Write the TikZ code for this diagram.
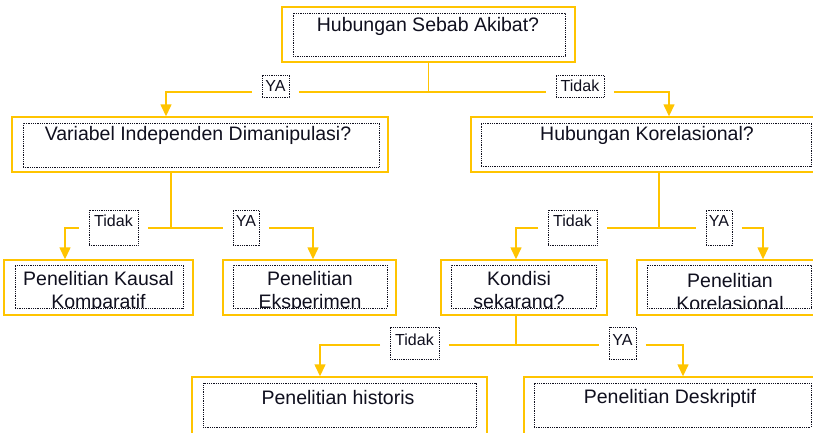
\documentclass[tikz,border=0pt]{standalone}
\usepackage{fontspec}
\setmainfont{Liberation Sans}
\usetikzlibrary{arrows.meta}
\definecolor{gold}{RGB}{255,196,0}
\definecolor{ink}{RGB}{15,15,30}
\tikzset{
  ybox/.style={draw=gold, line width=1.4pt, inner sep=0pt, fill=white},
  dbox/.style={draw=ink, line width=0.9pt, dash pattern=on 0.9pt off 0.9pt, inner sep=0pt},
  txt/.style={font=\fontsize{19.5}{23}\selectfont, text=ink, align=center, inner sep=0pt},
  lbl/.style={dbox, font=\fontsize{16}{18}\selectfont, text=ink, fill=white},
  conn/.style={draw=gold, line width=1.4pt},
  arr/.style={conn, -{Triangle[width=11pt,length=12pt]}}
}
\begin{document}
\begin{tikzpicture}[x=1pt,y=-1pt]
\useasboundingbox (0,0) rectangle (813,432);
\clip (0,0) rectangle (813,432);
% ---------- boxes ----------
\node[ybox,minimum width=293,minimum height=55] (q1) at (428.5,34.5) {};
\node[dbox,minimum width=272,minimum height=43] (q1i) at (429,34.5) {};
\node[txt] (q1t) at (428,26) {Hubungan Sebab Akibat?};

\node[ybox,minimum width=376,minimum height=55] (q2) at (200,144.5) {};
\node[dbox,minimum width=356,minimum height=44] (q2i) at (201,145) {};
\node[txt] (q2t) at (198,135) {Variabel Independen Dimanipulasi?};

\node[ybox,minimum width=359,minimum height=55] (q3) at (650.5,144.5) {};
\node[dbox,minimum width=330,minimum height=43] (q3i) at (646,144.5) {};
\node[txt] (q3t) at (647,135) {Hubungan Korelasional?};

\node[ybox,minimum width=189,minimum height=55] (r1) at (98.5,287.5) {};
\begin{scope}\clip (15,265) rectangle (183,308.5);
\node[txt] (r1t) at (98.5,292) {Penelitian Kausal\\Komparatif};
\end{scope}
\node[dbox,minimum width=168,minimum height=43] (r1i) at (99,286.5) {};

\node[ybox,minimum width=173,minimum height=55] (r2) at (309.5,287.5) {};
\begin{scope}\clip (233,265) rectangle (387,308.5);
\node[txt] (r2t) at (310,292) {Penelitian\\Eksperimen};
\end{scope}
\node[dbox,minimum width=154,minimum height=43] (r2i) at (310,286.5) {};

\node[ybox,minimum width=166,minimum height=55] (q4) at (524,287.5) {};
\begin{scope}\clip (451,265) rectangle (596,308.5);
\node[txt] (q4t) at (519,292) {Kondisi\\sekarang?};
\end{scope}
\node[dbox,minimum width=145,minimum height=43] (q4i) at (523.5,286.5) {};

\node[ybox,minimum width=193,minimum height=55] (r3) at (733.5,287.5) {};
\begin{scope}\clip (647,265) rectangle (811,308.5);
\node[txt] (r3t) at (730,292) {Penelitian\\Korelasional};
\end{scope}
\node[dbox,minimum width=164,minimum height=43] (r3i) at (729,286.5) {};

\node[ybox,minimum width=295,minimum height=63] (r4) at (339.5,408.5) {};
\node[dbox,minimum width=273,minimum height=44] (r4i) at (339.5,405) {};
\node[txt] (r4t) at (338,398) {Penelitian historis};

\node[ybox,minimum width=306,minimum height=63] (r5) at (677,408.5) {};
\node[dbox,minimum width=277,minimum height=44] (r5i) at (672.5,405) {};
\node[txt] (r5t) at (670,398) {Penelitian Deskriptif};

% ---------- labels ----------
\node[lbl,minimum width=27,minimum height=22] (yaA) at (275.5,86) {YA};
\node[lbl,minimum width=48,minimum height=22] (tidakA) at (580,86) {Tidak};
\node[lbl,minimum width=49,text height=16pt,text depth=19pt] (tidakB) at (113.5,227.5) {Tidak};
\node[lbl,minimum width=26,text height=16pt,text depth=19pt] (yaB) at (246,227.5) {YA};
\node[lbl,minimum width=49,text height=16pt,text depth=19pt] (tidakC) at (572.5,227.5) {Tidak};
\node[lbl,minimum width=26,text height=16pt,text depth=19pt] (yaC) at (719,227.5) {YA};
\node[lbl,minimum width=49,text height=18pt,text depth=14pt] (tidakD) at (414.5,343) {Tidak};
\node[lbl,minimum width=27,text height=18pt,text depth=14pt] (yaD) at (622.5,343) {YA};

% ---------- junctions ----------
\coordinate (j1) at (428.5,92);
\coordinate (j2) at (171,228);
\coordinate (j3) at (659,228);
\coordinate (j4) at (516,345);
\coordinate (dA1) at (166,0);
\coordinate (dA2) at (669,0);
\coordinate (dB1) at (65,0);
\coordinate (dB2) at (313,0);
\coordinate (dC1) at (516,0);
\coordinate (dC2) at (763,0);
\coordinate (dD1) at (320,0);
\coordinate (dD2) at (683,0);

% ---------- connectors ----------
\draw[conn] (q1.south) -- (j1);
\draw[conn] ([xshift=9.5pt]yaA.east |- j1) -- ([xshift=-9.5pt]tidakA.west |- j1);
\draw[arr] ([xshift=-9.5pt]yaA.west |- j1) -| (dA1 |- q2.north);
\draw[arr] ([xshift=9.5pt]tidakA.east |- j1) -| (dA2 |- q3.north);

\draw[conn] (q2.south -| j2) -- (j2);
\draw[conn] ([xshift=9.5pt]tidakB.east |- j2) -- ([xshift=-9.5pt]yaB.west |- j2);
\draw[arr] ([xshift=-9.5pt]tidakB.west |- j2) -| (dB1 |- r1.north);
\draw[arr] ([xshift=9.5pt]yaB.east |- j2) -| (dB2 |- r2.north);

\draw[conn] (q3.south -| j3) -- (j3);
\draw[conn] ([xshift=9.5pt]tidakC.east |- j3) -- ([xshift=-9.5pt]yaC.west |- j3);
\draw[arr] ([xshift=-9.5pt]tidakC.west |- j3) -| (dC1 |- q4.north);
\draw[arr] ([xshift=9.5pt]yaC.east |- j3) -| (dC2 |- r3.north);

\draw[conn] (q4.south -| j4) -- (j4);
\draw[conn] ([xshift=9.5pt]tidakD.east |- j4) -- ([xshift=-9.5pt]yaD.west |- j4);
\draw[arr] ([xshift=-9.5pt]tidakD.west |- j4) -| (dD1 |- r4.north);
\draw[arr] ([xshift=9.5pt]yaD.east |- j4) -| (dD2 |- r5.north);
\end{tikzpicture}
\end{document}
